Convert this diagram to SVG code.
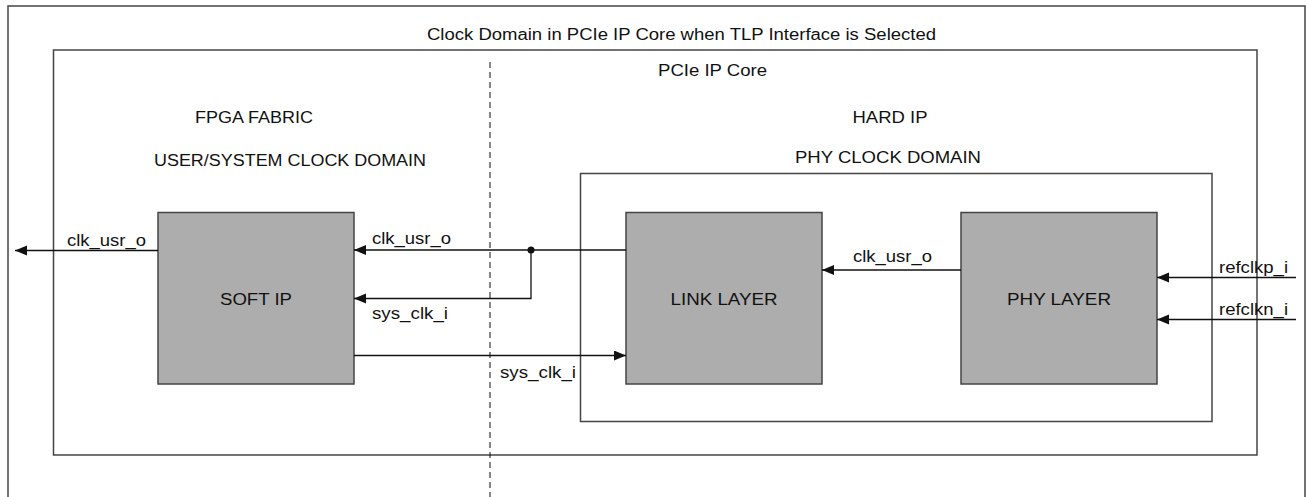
<svg xmlns="http://www.w3.org/2000/svg" width="1306" height="497" viewBox="0 0 1306 497">
<style>
.frame{fill:none;stroke:#444;stroke-width:1.5}
.blk{fill:#adadad;stroke:#444;stroke-width:1.5}
.con{fill:none;stroke:#111;stroke-width:1.3}
.dash{fill:none;stroke:#111;stroke-width:1;stroke-dasharray:6 4}
text{font-family:"Liberation Sans",Arial,sans-serif;font-size:16px;fill:#111}
.mid{text-anchor:middle}
</style>
<defs>
<marker id="ah" markerUnits="userSpaceOnUse" markerWidth="13" markerHeight="11" refX="12" refY="5" orient="auto">
<path d="M0,0 L12,5 L0,10 z" fill="#111"/>
</marker>
</defs>
<rect width="1306" height="497" fill="#fff"/>
<g id="outer-frame">
<rect class="frame" x="8" y="6" width="1297" height="500"/>
<text x="427" y="40" textLength="509" lengthAdjust="spacingAndGlyphs">Clock Domain in PCIe IP Core when TLP Interface is Selected</text>
</g>
<g id="pcie-ip-core">
<rect class="frame" x="53.5" y="50" width="1203.5" height="405"/>
<text x="658" y="76" textLength="109" lengthAdjust="spacingAndGlyphs">PCIe IP Core</text>
</g>
<g id="fpga-fabric">
<line class="dash" x1="490" y1="62" x2="490" y2="497"/>
<text class="mid" x="254" y="123" textLength="118" lengthAdjust="spacingAndGlyphs">FPGA FABRIC</text>
<text class="mid" x="290" y="166" textLength="272" lengthAdjust="spacingAndGlyphs">USER/SYSTEM CLOCK DOMAIN</text>
</g>
<g id="hard-ip">
<rect class="frame" x="580.5" y="173.5" width="631.5" height="248"/>
<text class="mid" x="890" y="123" textLength="75" lengthAdjust="spacingAndGlyphs">HARD IP</text>
<text class="mid" x="888" y="163" textLength="186" lengthAdjust="spacingAndGlyphs">PHY CLOCK DOMAIN</text>
</g>
<g id="soft-ip">
<rect class="blk" x="158" y="212.5" width="196" height="171.5"/>
<text class="mid" x="256" y="305" textLength="72" lengthAdjust="spacingAndGlyphs">SOFT IP</text>
</g>
<g id="link-layer">
<rect class="blk" x="626" y="212.5" width="196" height="171.5"/>
<text class="mid" x="724" y="305" textLength="107" lengthAdjust="spacingAndGlyphs">LINK LAYER</text>
</g>
<g id="phy-layer">
<rect class="blk" x="961" y="212.5" width="196" height="171.5"/>
<text class="mid" x="1059" y="305" textLength="104" lengthAdjust="spacingAndGlyphs">PHY LAYER</text>
</g>
<g id="connectors">
<line class="con" x1="158" y1="250.5" x2="15" y2="250.5" marker-end="url(#ah)"/>
<text x="67" y="246" textLength="79" lengthAdjust="spacingAndGlyphs">clk_usr_o</text>
<line class="con" x1="626" y1="250" x2="354" y2="250" marker-end="url(#ah)"/>
<text x="372" y="244" textLength="79" lengthAdjust="spacingAndGlyphs">clk_usr_o</text>
<circle cx="531" cy="250" r="3.5" fill="#111"/>
<polyline class="con" points="531,250 531,298.5 354,298.5" marker-end="url(#ah)"/>
<text x="372" y="319" textLength="76" lengthAdjust="spacingAndGlyphs">sys_clk_i</text>
<line class="con" x1="354" y1="355.5" x2="626" y2="355.5" marker-end="url(#ah)"/>
<text x="500" y="378" textLength="76" lengthAdjust="spacingAndGlyphs">sys_clk_i</text>
<line class="con" x1="961" y1="270" x2="822" y2="270" marker-end="url(#ah)"/>
<text x="853" y="262" textLength="79" lengthAdjust="spacingAndGlyphs">clk_usr_o</text>
<line class="con" x1="1296" y1="277.5" x2="1157" y2="277.5" marker-end="url(#ah)"/>
<text x="1219" y="273" textLength="69" lengthAdjust="spacingAndGlyphs">refclkp_i</text>
<line class="con" x1="1296" y1="319.5" x2="1157" y2="319.5" marker-end="url(#ah)"/>
<text x="1219" y="315" textLength="69" lengthAdjust="spacingAndGlyphs">refclkn_i</text>
</g>
</svg>
